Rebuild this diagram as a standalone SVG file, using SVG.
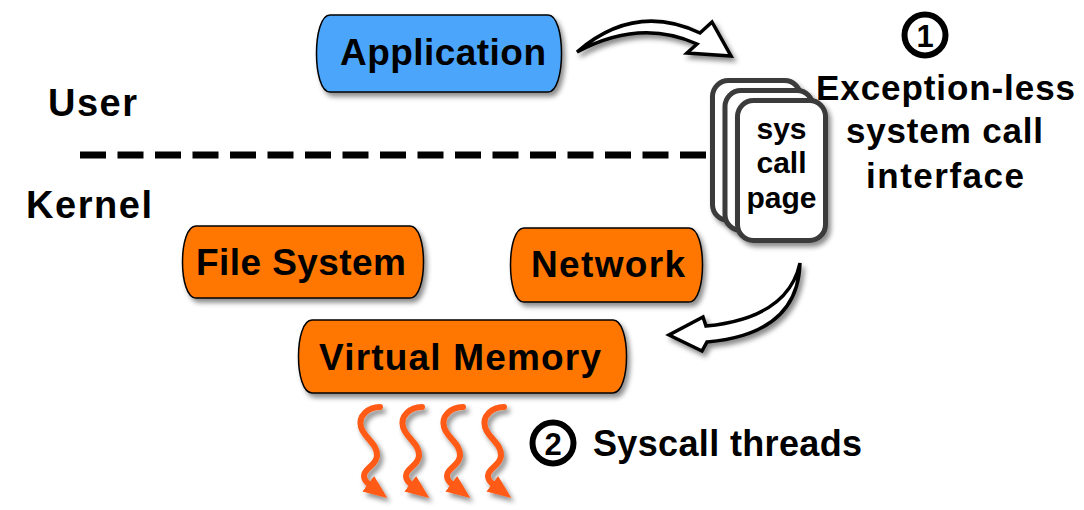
<svg xmlns="http://www.w3.org/2000/svg" width="1084" height="510" viewBox="0 0 1084 510">
<defs>
<filter id="sh" x="-20%" y="-20%" width="150%" height="150%">
<feDropShadow dx="3" dy="4" stdDeviation="2.5" flood-color="#000" flood-opacity="0.45"/>
</filter>
<marker id="sq" markerUnits="userSpaceOnUse" markerWidth="26" markerHeight="26" refX="2" refY="0" viewBox="0 -11 24 22" orient="auto">
<path d="M0,-9 L22,0 L0,9 Z" fill="#ff5a14"/>
</marker>
<path id="wave" d="M380,407 C368,407 358,416 361,427 C364,438 378,444 377,456 C376,466 364,468 364,476 C364,480 366,482 370,485" fill="none" stroke="#ff5a14" stroke-width="6" stroke-linecap="round" marker-end="url(#sq)"/>
</defs>
<style>
.lbl{font-family:"Liberation Sans",Arial,sans-serif;font-weight:bold;fill:#000}
.box{stroke:#000;stroke-width:1.5}
.page{fill:#fff;stroke:#3a3a3a;stroke-width:5}
.blk{fill:#fff;stroke:#000;stroke-width:3.5;stroke-linejoin:miter}
</style>
<rect width="1084" height="510" fill="#fff"/>

<g id="divider">
<line x1="80" y1="155" x2="712" y2="155" stroke="#000" stroke-width="7" stroke-dasharray="26 11.5"/>
<text class="lbl" x="48" y="116" font-size="38" textLength="89">User</text>
<text class="lbl" x="26" y="218" font-size="38" textLength="126">Kernel</text>
</g>

<g id="connectors">
<path class="blk" filter="url(#sh)" d="M577,52 Q635,2 700,33 L712,22 L731,56 L687,53 L697,44 Q640,18 577,52 Z"/>
<path class="blk" filter="url(#sh)" d="M800,263 Q788,318 706,326 L703,317 L669,335 L702,351 L707,342 Q798,334 800,263 Z"/>
<g id="threads" filter="url(#sh)">
<use href="#wave"/>
<use href="#wave" transform="translate(42,0)"/>
<use href="#wave" transform="translate(83,0)"/>
<use href="#wave" transform="translate(124,0)"/>
</g>
</g>

<g id="application">
<path class="box" filter="url(#sh)" fill="#4ba6fb" d="M330,15 H548 C566,15 566,92 548,92 H330 C312,92 312,15 330,15 Z"/>
<text class="lbl" x="443" y="65" font-size="37" text-anchor="middle" textLength="206">Application</text>
</g>

<g id="filesystem">
<path class="box" filter="url(#sh)" fill="#ff7700" d="M196,226 H410 C428,226 428,298 410,298 H196 C178,298 178,226 196,226 Z"/>
<text class="lbl" x="301" y="275" font-size="37" text-anchor="middle" textLength="210">File System</text>
</g>

<g id="network">
<path class="box" filter="url(#sh)" fill="#ff7700" d="M524,228 H689 C707,228 707,302 689,302 H524 C506,302 506,228 524,228 Z"/>
<text class="lbl" x="608" y="277" font-size="37" text-anchor="middle" textLength="154">Network</text>
</g>

<g id="virtualmemory">
<path class="box" filter="url(#sh)" fill="#ff7700" d="M312,320 H613 C631,320 631,393 613,393 H312 C294,393 294,320 312,320 Z"/>
<text class="lbl" x="460" y="370" font-size="37" text-anchor="middle" textLength="282">Virtual Memory</text>
</g>

<g id="syscallpage">
<rect class="page" filter="url(#sh)" x="712.5" y="80.5" width="88" height="140" rx="16"/>
<rect class="page" filter="url(#sh)" x="725" y="90.5" width="88" height="140" rx="16"/>
<rect class="page" filter="url(#sh)" x="737.5" y="100.5" width="88" height="140" rx="16"/>
<text class="lbl" x="781.5" y="139" font-size="30" text-anchor="middle">sys</text>
<text class="lbl" x="781.5" y="173" font-size="30" text-anchor="middle">call</text>
<text class="lbl" x="781.5" y="208" font-size="30" text-anchor="middle">page</text>
</g>

<g id="label1">
<circle cx="925" cy="35" r="20.5" fill="#fff" stroke="#000" stroke-width="6"/>
<text class="lbl" x="925" y="46.5" font-size="31" text-anchor="middle">1</text>
<text class="lbl" x="945.5" y="100" font-size="35" text-anchor="middle" textLength="259">Exception-less</text>
<text class="lbl" x="944.5" y="143" font-size="35" text-anchor="middle" textLength="197">system call</text>
<text class="lbl" x="945" y="188" font-size="35" text-anchor="middle" textLength="158">interface</text>
</g>

<g id="label2">
<circle cx="553" cy="443" r="20.5" fill="#fff" stroke="#000" stroke-width="6"/>
<text class="lbl" x="553" y="454.5" font-size="31" text-anchor="middle">2</text>
<text class="lbl" x="593" y="456" font-size="36" textLength="269">Syscall threads</text>
</g>
</svg>
